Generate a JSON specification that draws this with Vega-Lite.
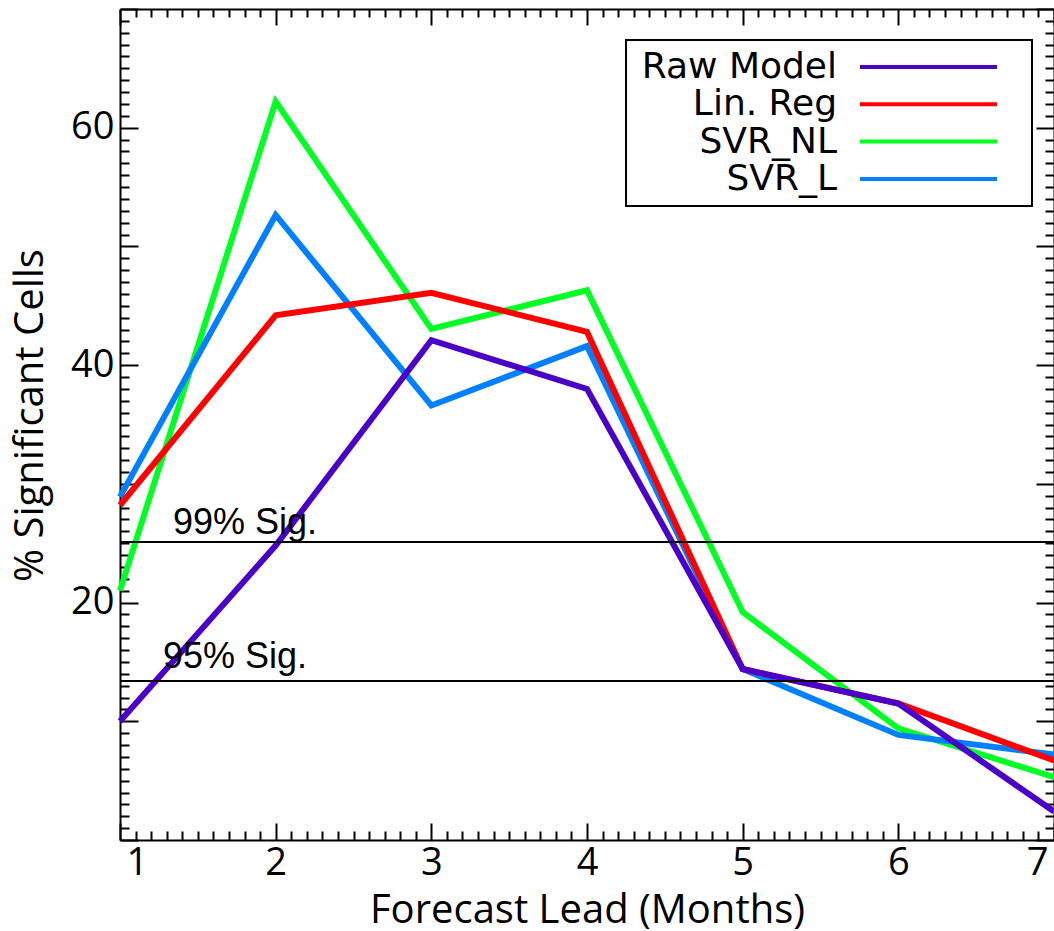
{
  "$schema": "https://vega.github.io/schema/vega-lite/v6.json",
  "width": 934,
  "height": 831,
  "autosize": {"type": "none"},
  "padding": {"left": 120, "top": 9, "right": 0, "bottom": 91},
  "background": "white",
  "config": {"view": {"stroke": null}},
  "resolve": {"scale": {"x": "independent", "y": "independent"}},
  "layer": [
    {
      "data": {"values": [
        {"series": "SVR_NL", "lead": 1, "pct": 21.0},
        {"series": "SVR_NL", "lead": 2, "pct": 62.2},
        {"series": "SVR_NL", "lead": 3, "pct": 43.05},
        {"series": "SVR_NL", "lead": 4, "pct": 46.3},
        {"series": "SVR_NL", "lead": 5, "pct": 19.2},
        {"series": "SVR_NL", "lead": 6, "pct": 9.4},
        {"series": "SVR_NL", "lead": 7, "pct": 5.3},
        {"series": "SVR_L", "lead": 1, "pct": 28.9},
        {"series": "SVR_L", "lead": 2, "pct": 52.65},
        {"series": "SVR_L", "lead": 3, "pct": 36.6},
        {"series": "SVR_L", "lead": 4, "pct": 41.6},
        {"series": "SVR_L", "lead": 5, "pct": 14.4},
        {"series": "SVR_L", "lead": 6, "pct": 8.85},
        {"series": "SVR_L", "lead": 7, "pct": 7.2},
        {"series": "Lin. Reg", "lead": 1, "pct": 28.2},
        {"series": "Lin. Reg", "lead": 2, "pct": 44.2},
        {"series": "Lin. Reg", "lead": 3, "pct": 46.1},
        {"series": "Lin. Reg", "lead": 4, "pct": 42.8},
        {"series": "Lin. Reg", "lead": 5, "pct": 14.4},
        {"series": "Lin. Reg", "lead": 6, "pct": 11.5},
        {"series": "Lin. Reg", "lead": 7, "pct": 6.7},
        {"series": "Raw Model", "lead": 1, "pct": 10.0},
        {"series": "Raw Model", "lead": 2, "pct": 24.8},
        {"series": "Raw Model", "lead": 3, "pct": 42.1},
        {"series": "Raw Model", "lead": 4, "pct": 38.0},
        {"series": "Raw Model", "lead": 5, "pct": 14.4},
        {"series": "Raw Model", "lead": 6, "pct": 11.5},
        {"series": "Raw Model", "lead": 7, "pct": 2.4}
      ]},
      "mark": {"type": "line", "strokeWidth": 6, "strokeJoin": "miter", "strokeCap": "butt", "clip": false},
      "encoding": {
        "x": {
          "field": "lead", "type": "quantitative",
          "scale": {"domain": [1, 7], "nice": false, "zero": false},
          "axis": {
            "orient": "bottom",
            "values": [1,1.1,1.2,1.3,1.4,1.5,1.6,1.7,1.8,1.9,2,2.1,2.2,2.3,2.4,2.5,2.6,2.7,2.8,2.9,3,3.1,3.2,3.3,3.4,3.5,3.6,3.7,3.8,3.9,4,4.1,4.2,4.3,4.4,4.5,4.6,4.7,4.8,4.9,5,5.1,5.2,5.3,5.4,5.5,5.6,5.7,5.8,5.9,6,6.1,6.2,6.3,6.4,6.5,6.6,6.7,6.8,6.9,7],
            "tickSize": {"condition": {"test": "abs(datum.value - round(datum.value)) < 0.001", "value": -17}, "value": -9},
            "tickWidth": 2, "tickColor": "black",
            "domainColor": "black", "domainWidth": 2,
            "grid": false,
            "labelExpr": "abs(datum.value - round(datum.value)) < 0.001 ? format(datum.value, 'd') : ''",
            "labelFont": "Open Sans", "labelFontSize": 38, "labelColor": "black",
            "labelPadding": 21, "labelFlush": true, "labelFlushOffset": -6,
            "title": "Forecast Lead (Months)",
            "titleFont": "Open Sans", "titleFontSize": 40, "titleFontWeight": "normal", "titleColor": "black",
            "titleY": 82, "titleBaseline": "alphabetic"
          }
        },
        "y": {
          "field": "pct", "type": "quantitative",
          "scale": {"domain": [0, 70], "nice": false, "zero": false},
          "axis": {
            "orient": "left",
            "values": [0,1,2,3,4,5,6,7,8,9,10,11,12,13,14,15,16,17,18,19,20,21,22,23,24,25,26,27,28,29,30,31,32,33,34,35,36,37,38,39,40,41,42,43,44,45,46,47,48,49,50,51,52,53,54,55,56,57,58,59,60,61,62,63,64,65,66,67,68,69,70],
            "tickSize": {"condition": {"test": "datum.value % 10 === 0", "value": -18}, "value": -9},
            "tickWidth": 2, "tickColor": "black",
            "domainColor": "black", "domainWidth": 2,
            "grid": false,
            "labelExpr": "(datum.value === 20 || datum.value === 40 || datum.value === 60) ? datum.label : ''",
            "labelFont": "Open Sans", "labelFontSize": 38, "labelColor": "black",
            "labelPadding": 24,
            "title": "% Significant Cells",
            "titleFont": "Open Sans", "titleFontSize": 40, "titleFontWeight": "normal", "titleColor": "black",
            "titleX": -78, "titleY": 406, "titleBaseline": "alphabetic", "titleAngle": -90
          }
        },
        "color": {
          "field": "series", "type": "nominal",
          "scale": {"domain": ["Raw Model", "Lin. Reg", "SVR_NL", "SVR_L"], "range": ["#4b00c8", "#ff0000", "#00ff22", "#0080ff"]},
          "legend": {
            "orient": "none", "legendX": 506, "legendY": 31,
            "title": null, "direction": "vertical",
            "symbolType": "M0,0H154.5", "symbolSize": 4, "symbolStrokeWidth": 4,
            "symbolDash": [137, 400], "symbolOffset": 207,
            "labelOffset": -41, "labelAlign": "right", "labelLimit": 1000,
            "labelFont": "DejaVu Sans", "labelFontSize": 36, "labelColor": "black",
            "rowPadding": 1.3, "padding": 9,
            "strokeColor": "black", "fillColor": "white",
            "encode": {
              "legend": {"update": {"strokeWidth": {"value": 2}}},
              "labels": {"update": {"align": {"value": "right"}}}
            }
          }
        }
      }
    },
    {
      "data": {"values": [
        {"name": "99%", "level": 25.1},
        {"name": "95%", "level": 13.4}
      ]},
      "mark": {"type": "rule", "color": "black", "strokeWidth": 2},
      "encoding": {
        "x": {
          "datum": 1, "type": "quantitative",
          "scale": {"domain": [1, 7], "nice": false, "zero": false},
          "axis": {
            "orient": "top", "title": null, "labels": false,
            "values": [1,1.1,1.2,1.3,1.4,1.5,1.6,1.7,1.8,1.9,2,2.1,2.2,2.3,2.4,2.5,2.6,2.7,2.8,2.9,3,3.1,3.2,3.3,3.4,3.5,3.6,3.7,3.8,3.9,4,4.1,4.2,4.3,4.4,4.5,4.6,4.7,4.8,4.9,5,5.1,5.2,5.3,5.4,5.5,5.6,5.7,5.8,5.9,6,6.1,6.2,6.3,6.4,6.5,6.6,6.7,6.8,6.9,7],
            "tickSize": {"condition": {"test": "abs(datum.value - round(datum.value)) < 0.001", "value": -16}, "value": -8},
            "tickWidth": 2, "tickColor": "black",
            "domainColor": "black", "domainWidth": 2, "grid": false
          }
        },
        "x2": {"datum": 7},
        "y": {
          "field": "level", "type": "quantitative",
          "scale": {"domain": [0, 70], "nice": false, "zero": false},
          "axis": {
            "orient": "right", "title": null, "labels": false,
            "values": [0,1,2,3,4,5,6,7,8,9,10,11,12,13,14,15,16,17,18,19,20,21,22,23,24,25,26,27,28,29,30,31,32,33,34,35,36,37,38,39,40,41,42,43,44,45,46,47,48,49,50,51,52,53,54,55,56,57,58,59,60,61,62,63,64,65,66,67,68,69,70],
            "tickSize": {"condition": {"test": "datum.value % 10 === 0", "value": -18}, "value": -9},
            "tickWidth": 2, "tickColor": "black",
            "domainColor": "black", "domainWidth": 2, "grid": false
          }
        }
      }
    },
    {
      "data": {"values": [
        {"label": "99% Sig.", "lx": 1.34, "ly": 25.8},
        {"label": "95% Sig.", "lx": 1.276, "ly": 14.5}
      ]},
      "mark": {"type": "text", "align": "left", "baseline": "alphabetic", "font": "Liberation Sans", "fontSize": 36, "color": "black"},
      "encoding": {
        "x": {"field": "lx", "type": "quantitative", "scale": {"domain": [1, 7], "nice": false, "zero": false}, "axis": null},
        "y": {"field": "ly", "type": "quantitative", "scale": {"domain": [0, 70], "nice": false, "zero": false}, "axis": null},
        "text": {"field": "label"}
      }
    }
  ]
}
